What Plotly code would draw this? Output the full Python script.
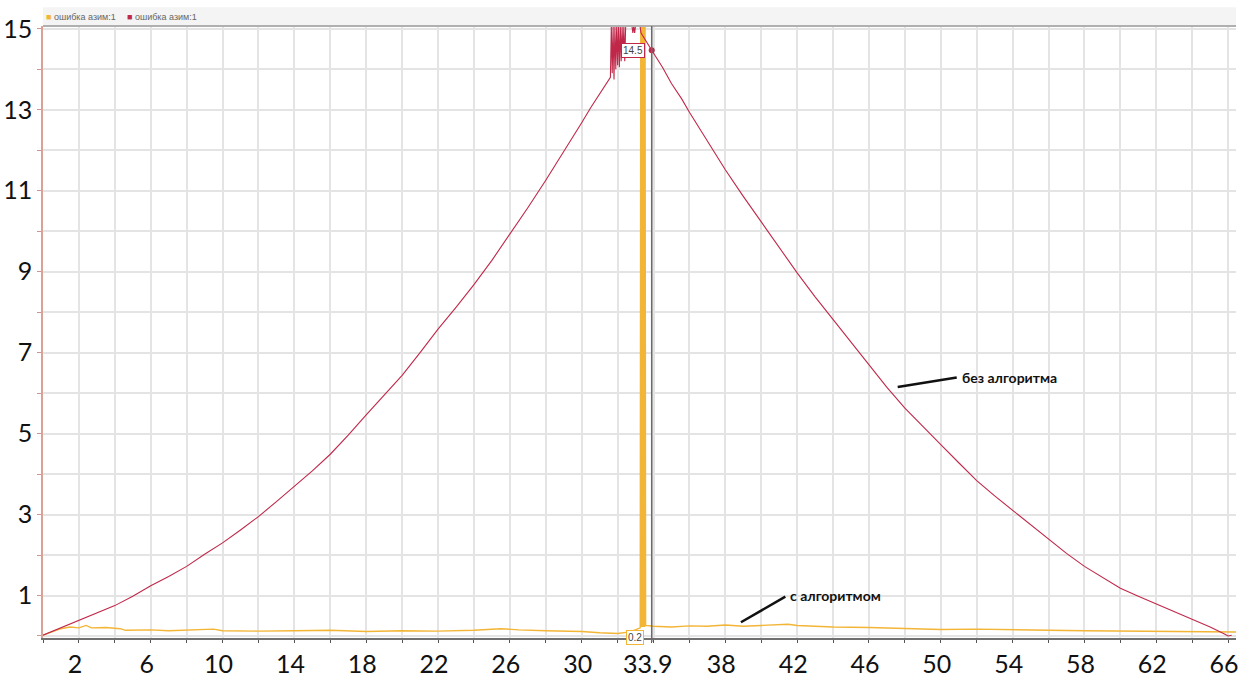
import plotly.graph_objects as go

# ---- data ----
red_x = [0.0, 1, 2, 3, 4, 5, 6, 7, 8, 9, 10, 11, 12, 13, 14, 15, 16, 17, 18, 19, 20,
         21, 22, 23, 24, 25, 26, 27, 28, 29, 30, 30.5, 31, 31.5, 31.6, 31.65, 31.7, 31.75,
         31.8, 31.85, 31.9, 31.95, 32.0, 32.05, 32.1, 32.15, 32.2, 32.25, 32.3, 32.35,
         32.4, 32.45, 32.8, 32.85, 32.9, 32.95, 33.0, 33.25, 33.3, 33.9, 34.5, 35, 35.57,
         36, 37, 38, 39, 40, 41, 42, 43, 44, 45, 46, 47, 48, 49, 50, 51, 52, 53, 54, 55,
         56, 57, 58, 59, 60, 61, 62, 63, 64, 65, 65.8, 66.0, 66.2]
red_y = [0.02, 0.2, 0.38, 0.56, 0.75, 0.98, 1.24, 1.47, 1.72, 2.02, 2.3, 2.62, 2.95, 3.32,
         3.70, 4.08, 4.49, 4.96, 5.46, 5.94, 6.44, 7.0, 7.58, 8.12, 8.68, 9.28, 9.92, 10.58,
         11.26, 11.96, 12.68, 13.05, 13.4, 13.76, 13.8, 15.07, 13.9, 15.07, 13.75, 15.07,
         14.0, 15.07, 14.1, 15.07, 14.05, 15.07, 14.2, 15.07, 14.3, 15.07, 14.2, 15.07,
         15.07, 14.9, 15.07, 14.9, 15.07, 15.07, 14.9, 14.47, 14.05, 13.65, 13.27,
         12.94, 12.22, 11.52, 10.86, 10.22, 9.58, 8.97, 8.38, 7.82, 7.25, 6.68, 6.14, 5.63,
         5.17, 4.73, 4.28, 3.84, 3.46, 3.1, 2.74, 2.4, 2.04, 1.72, 1.44, 1.18, 0.98, 0.79,
         0.6, 0.42, 0.22, 0.05, 0.0, 0.02]

orange_x = [0.0, 1.0, 1.5, 2.0, 2.4, 2.7, 3.5, 4.3, 4.6, 6, 7, 8, 9.5, 10, 12, 14, 16, 18,
            20, 22, 24, 25.5, 26.5, 28, 30, 31, 32, 32.7, 33.0, 33.26, 33.29, 33.32, 33.35,
            33.38, 33.41, 33.44, 33.47, 33.50, 33.53, 33.56, 34, 35, 36, 37, 38, 39, 40,
            41.5, 42, 44, 46, 48, 50, 52, 54, 56, 58, 60, 62, 64, 66, 66.44]
orange_y = [0.02, 0.18, 0.22, 0.2, 0.26, 0.2, 0.21, 0.18, 0.14, 0.15, 0.13, 0.14, 0.17,
            0.13, 0.12, 0.13, 0.14, 0.11, 0.13, 0.12, 0.14, 0.18, 0.15, 0.13, 0.11, 0.08,
            0.06, 0.1, 0.16, 0.2, 15.1, 0.22, 15.1, 0.22, 15.1, 0.22, 15.1, 0.22, 15.1,
            0.26, 0.24, 0.22, 0.25, 0.24, 0.27, 0.24, 0.26, 0.29, 0.26, 0.22, 0.21, 0.19,
            0.16, 0.17, 0.15, 0.14, 0.13, 0.12, 0.11, 0.11, 0.1, 0.1]

series_name = "ошибка азим:1"
x_ticks = [2, 6, 10, 14, 18, 22, 26, 30, 33.9, 38, 42, 46, 50, 54, 58, 62, 66]
x_tick_labels = ["2", "6", "10", "14", "18", "22", "26", "30", "33.9", "38", "42", "46",
                 "50", "54", "58", "62", "66"]
y_ticks = [1, 3, 5, 7, 9, 11, 13, 15]
y_tick_labels = ["1", "3", "5", "7", "9", "11", "13", "15"]

cursor_x = 33.9
cursor_red = 14.47
cursor_orange = 0.2

label_red = "без алгоритма"
label_red_at = (47.6, 6.15)
label_orange = "с алгоритмом"
label_orange_at = (38.87, 0.34)

RED = "#c0284a"
ORANGE = "#f3b536"
GRID = "#e4e4e4"

fig = go.Figure()
fig.add_trace(go.Scatter(x=orange_x, y=orange_y, mode="lines", name=series_name,
                         line=dict(color=ORANGE, width=1.4), showlegend=False))
fig.add_trace(go.Scatter(x=red_x, y=red_y, mode="lines", name=series_name,
                         line=dict(color=RED, width=1.1), showlegend=False))
fig.add_trace(go.Scatter(x=[cursor_x], y=[cursor_red], mode="markers", showlegend=False,
                         marker=dict(color=RED, size=6)))

H = 620.0
# header band and top border
fig.add_shape(type="rect", xref="paper", yref="paper", x0=0, x1=1,
              y0=1 + 1 / H, y1=1 + 19 / H, fillcolor="#f4f4f4", line=dict(width=0),
              layer="below")
fig.add_shape(type="line", xref="paper", yref="paper", x0=0, x1=1, y0=1, y1=1,
              line=dict(color="#b0b0b0", width=2))
# cursor line
fig.add_shape(type="line", xref="x", yref="paper", x0=cursor_x, x1=cursor_x,
              y0=-4 / H, y1=1, line=dict(color="#6a6a6a", width=1.5))

# legend-like header texts
fig.add_annotation(xref="paper", yref="paper", x=0, y=1 + 9.5 / H, xanchor="left",
                   yanchor="middle", xshift=1, showarrow=False,
                   text=f"<span style='color:{ORANGE}'>■</span> {series_name}",
                   font=dict(family="Liberation Sans", size=9, color="#666"))
fig.add_annotation(xref="paper", yref="paper", x=0, y=1 + 9.5 / H, xanchor="left",
                   yanchor="middle", xshift=82, showarrow=False,
                   text=f"<span style='color:{RED}'>■</span> {series_name}",
                   font=dict(family="Liberation Sans", size=9, color="#666"))

# cursor readouts
fig.add_annotation(x=cursor_x, y=cursor_red, xanchor="right", yanchor="middle", xshift=-7,
                   showarrow=False, text=f"{cursor_red:.1f}", bgcolor="white",
                   bordercolor=RED, borderwidth=1, borderpad=1,
                   font=dict(family="Liberation Sans", size=10, color="#444"))
fig.add_annotation(x=cursor_x, y=cursor_orange, xanchor="right", yanchor="middle",
                   xshift=-8, yshift=-10, showarrow=False, text=f"{cursor_orange:.1f}",
                   bgcolor="white", bordercolor=ORANGE, borderwidth=1, borderpad=1,
                   font=dict(family="Liberation Sans", size=10, color="#444"))

# callouts
fig.add_annotation(x=label_red_at[0], y=label_red_at[1], ax=62, ay=-10, text=f"<b>{label_red}</b>",
                   showarrow=True, arrowhead=0, arrowwidth=2.5, arrowcolor="#111",
                   xanchor="left", yanchor="middle", standoff=0, startstandoff=3,
                   font=dict(family="Lato", size=14, color="#111"))
fig.add_annotation(x=label_orange_at[0], y=label_orange_at[1], ax=47, ay=-27,
                   text=f"<b>{label_orange}</b>",
                   showarrow=True, arrowhead=0, arrowwidth=2.5, arrowcolor="#111",
                   xanchor="left", yanchor="middle", standoff=0, startstandoff=3,
                   font=dict(family="Lato", size=14, color="#111"))

fig.update_layout(
    width=1239, height=678,
    margin=dict(l=43, r=0, t=26, b=32),
    paper_bgcolor="white", plot_bgcolor="white",
    showlegend=False,
    xaxis=dict(range=[0, 66.44], tickvals=x_ticks, ticktext=x_tick_labels,
               tickfont=dict(family="Lato", size=25, color="#111"),
               ticks="outside", ticklen=3, tickcolor="#555", tickwidth=1,
               ticklabeloverflow="allow", ticklabelshift=-4,
               showgrid=True, gridcolor=GRID, gridwidth=1.5,
               showline=True, linecolor="#707070", linewidth=2, zeroline=False,
               minor=dict(dtick=2, tick0=0, showgrid=True, gridcolor=GRID, gridwidth=1.5,
                          ticks="outside", ticklen=3, tickcolor="#555")),
    yaxis=dict(range=[-0.05, 15.07], tickvals=y_ticks, ticktext=y_tick_labels,
               tickfont=dict(family="Lato", size=25, color="#111"),
               ticks="", ticklabelstandoff=4,
               showgrid=True, gridcolor=GRID, gridwidth=1.5,
               showline=True, linecolor="#d9a294", linewidth=1.5, zeroline=False,
               minor=dict(dtick=1, tick0=0, showgrid=True, gridcolor=GRID, gridwidth=1.5,
                          ticks="outside", ticklen=4, tickcolor="#c89890")),
)

fig.write_html("out.html")
